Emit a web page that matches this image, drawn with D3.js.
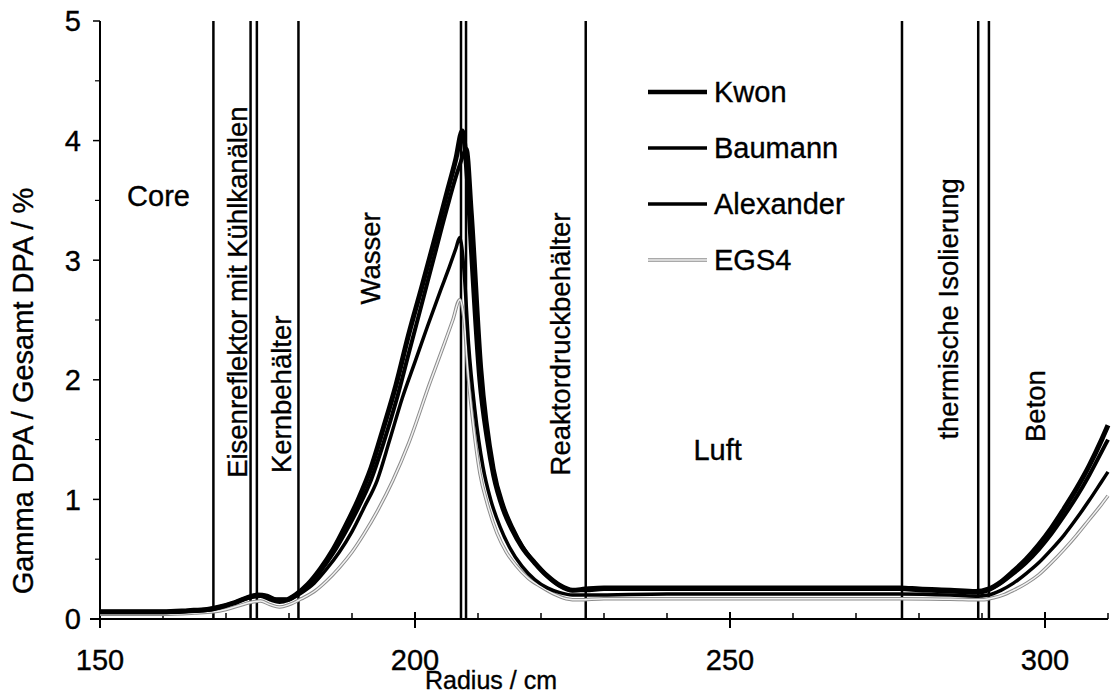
<!DOCTYPE html>
<html>
<head>
<meta charset="utf-8">
<script src="https://cdn.jsdelivr.net/npm/d3@7"></script>
<style>
  body { margin: 0; background: #fff; }
  text { font-family: "Liberation Sans", Arial, sans-serif; fill: #000; stroke: #000; stroke-width: 0.35px; }
</style>
</head>
<body>
<div id="chart"></div>
<script>
// series data: [radius cm, gamma dpa %]
const kwon = [[150,0.06],[155,0.06],[160,0.06],[164,0.07],[167,0.08],[169,0.1],[171,0.13],[173,0.17],[175,0.2],[176.5,0.19],[178,0.16],[179.5,0.16],[181,0.2],[183,0.29],[185,0.42],[187,0.58],[189,0.78],[191,1.0],[193,1.26],[195,1.6],[197,1.96],[199,2.38],[201,2.76],[203,3.15],[205,3.55],[206.5,3.85],[207.5,4.08],[208.3,3.7],[209,3.05],[210.3,2.0],[211.5,1.5],[212.5,1.2],[214,0.92],[215.5,0.74],[217,0.6],[219,0.47],[221,0.36],[223,0.28],[225,0.24],[227,0.25],[230,0.26],[240,0.26],[250,0.26],[260,0.26],[270,0.26],[277,0.26],[280,0.25],[285,0.24],[289,0.23],[291,0.25],[293,0.31],[295,0.4],[297,0.5],[299,0.62],[301,0.76],[303,0.92],[305,1.09],[307,1.28],[309,1.5],[310,1.62]];
const baumann = [[150,0.06],[155,0.06],[160,0.06],[164,0.07],[167,0.08],[169,0.1],[171,0.13],[173,0.17],[175,0.2],[176.5,0.19],[178,0.16],[179.5,0.16],[181,0.2],[183,0.28],[185,0.4],[187,0.55],[189,0.73],[191,0.93],[193,1.16],[195,1.47],[197,1.82],[199,2.22],[201,2.62],[203,3.02],[205,3.42],[207,3.78],[208.2,3.93],[209,3.4],[210.5,2.1],[212.5,1.25],[214,0.95],[215.5,0.76],[217,0.61],[219,0.47],[221,0.36],[223,0.28],[225,0.24],[227,0.24],[230,0.25],[240,0.25],[250,0.25],[260,0.25],[270,0.25],[277,0.25],[280,0.24],[285,0.23],[289,0.22],[291,0.24],[293,0.3],[295,0.38],[297,0.47],[299,0.58],[301,0.71],[303,0.86],[305,1.02],[307,1.2],[309,1.4],[310,1.5]];
const alexander = [[150,0.055],[160,0.055],[165,0.065],[168,0.08],[170,0.11],[172,0.15],[174,0.18],[175.5,0.19],[177,0.16],[178.5,0.14],[180,0.16],[182,0.22],[184,0.3],[186,0.42],[188,0.56],[190,0.73],[192,0.94],[194,1.16],[196,1.5],[198,1.85],[200,2.15],[202,2.45],[204,2.74],[205.5,2.95],[206.5,3.1],[207.1,3.19],[207.8,2.9],[208.5,2.3],[209.5,1.75],[210.8,1.27],[212,1.0],[213.5,0.77],[215,0.6],[217,0.44],[219,0.33],[221,0.26],[223,0.22],[225,0.2],[228,0.2],[240,0.21],[260,0.21],[277,0.21],[285,0.2],[289,0.19],[291,0.2],[293,0.24],[295,0.3],[297,0.38],[299,0.47],[301,0.58],[303,0.7],[305,0.84],[307,0.99],[309,1.15],[310,1.23]];
const egs4 = [[150,0.04],[160,0.04],[165,0.05],[168,0.06],[170,0.08],[172,0.11],[174,0.14],[175.5,0.15],[177,0.12],[178.5,0.1],[180,0.12],[182,0.17],[184,0.23],[186,0.32],[188,0.43],[190,0.56],[192,0.72],[194,0.9],[196.5,1.16],[199,1.47],[202.4,1.98],[204.5,2.28],[206,2.5],[207.1,2.67],[207.8,2.5],[208.5,2.0],[209.3,1.6],[210.3,1.22],[211.5,0.96],[213,0.72],[214.5,0.56],[216,0.45],[218,0.34],[220,0.27],[222,0.21],[224,0.17],[226,0.16],[230,0.17],[250,0.17],[277,0.17],[285,0.165],[290,0.16],[292,0.18],[293.3,0.2],[295,0.24],[297.1,0.3],[299,0.37],[301,0.47],[303,0.58],[305,0.7],[307,0.83],[309,0.96],[310,1.03]];

const seriesNames = ["Kwon", "Baumann", "Alexander", "EGS4"];

// region boundaries (radius cm)
const boundaries = [168, 173.9, 174.9, 181.5, 207.3, 208.1, 227.1, 277.3, 289.4, 291.1];

// region labels: [text, radius, value, rotated]
const regionLabels = [
  ["Core", 154.3, 3.45, false],
  ["Eisenreflektor mit Kühlkanälen", 173.3, 1.18, true],
  ["Kernbehälter", 180.3, 1.22, true],
  ["Wasser", 194.5, 2.63, true],
  ["Reaktordruckbehälter", 224.6, 1.2, true],
  ["Luft", 244.2, 1.33, false],
  ["thermische Isolierung", 286.2, 1.5, true],
  ["Beton", 300, 1.48, true]
];

const xTicks = [150, 200, 250, 300];
const yTicks = [0, 1, 2, 3, 4, 5];

const W = 1118, H = 695;
const x = d3.scaleLinear().domain([150, 310]).range([100, 1108]);
const y = d3.scaleLinear().domain([0, 5]).range([619, 21]);

const svg = d3.select("#chart").append("svg")
  .attr("width", W).attr("height", H);

// boundary lines
svg.selectAll(".bound")
  .data(boundaries)
  .join("line")
  .attr("class", "bound")
  .attr("x1", d => x(d)).attr("x2", d => x(d))
  .attr("y1", y(5)).attr("y2", y(0))
  .attr("stroke", "#000")
  .attr("stroke-width", 2.5);

// axes
const xAxis = svg.append("g");
xAxis.append("line")
  .attr("x1", x(150) - 10).attr("x2", x(310))
  .attr("y1", y(0)).attr("y2", y(0))
  .attr("stroke", "#000").attr("stroke-width", 2);
xAxis.selectAll(".minor")
  .data(d3.range(160, 311, 10).filter(d => d % 50 !== 0))
  .join("line")
  .attr("x1", d => x(d)).attr("x2", d => x(d))
  .attr("y1", y(0) - 6).attr("y2", y(0))
  .attr("stroke", "#000").attr("stroke-width", 1.5);
xAxis.selectAll(".major")
  .data(xTicks)
  .join("line")
  .attr("x1", d => x(d)).attr("x2", d => x(d))
  .attr("y1", y(0) - 7).attr("y2", y(0) + 9)
  .attr("stroke", "#000").attr("stroke-width", 2);
xAxis.selectAll(".xlab")
  .data(xTicks)
  .join("text")
  .attr("x", d => x(d)).attr("y", 670)
  .attr("text-anchor", "middle")
  .style("font-size", "29px")
  .text(d => d);

const yAxis = svg.append("g");
yAxis.append("line")
  .attr("x1", x(150)).attr("x2", x(150))
  .attr("y1", y(5)).attr("y2", y(0) + 9)
  .attr("stroke", "#000").attr("stroke-width", 2);
yAxis.selectAll(".ymajor")
  .data(yTicks)
  .join("line")
  .attr("x1", x(150) - 7).attr("x2", x(150))
  .attr("y1", d => y(d)).attr("y2", d => y(d))
  .attr("stroke", "#000").attr("stroke-width", 1.5);
yAxis.selectAll(".yminor")
  .data([0.5, 1.5, 2.5, 3.5, 4.5])
  .join("line")
  .attr("x1", x(150) - 5).attr("x2", x(150))
  .attr("y1", d => y(d)).attr("y2", d => y(d))
  .attr("stroke", "#000").attr("stroke-width", 1.2);
yAxis.selectAll(".ylab")
  .data(yTicks)
  .join("text")
  .attr("x", 81).attr("y", d => y(d))
  .attr("dy", "0.36em")
  .attr("text-anchor", "end")
  .style("font-size", "29px")
  .text(d => d);

// axis titles
svg.append("text")
  .attr("x", 491).attr("y", 689)
  .attr("text-anchor", "middle")
  .style("font-size", "25px")
  .text("Radius / cm");
svg.append("text")
  .attr("transform", "translate(33,391) rotate(-90)")
  .attr("text-anchor", "middle")
  .style("font-size", "29px")
  .text("Gamma DPA / Gesamt DPA / %");

// region labels
svg.selectAll(".region")
  .data(regionLabels)
  .join("text")
  .attr("class", "region")
  .attr("transform", d => d[3]
    ? `translate(${x(d[1])},${y(d[2])}) rotate(-90)`
    : `translate(${x(d[1])},${y(d[2])})`)
  .style("font-size", d => d[3] ? "27.5px" : "29px")
  .text(d => d[0]);

// curves
const line = d3.line()
  .x(d => x(d[0]))
  .y(d => y(d[1]))
  .curve(d3.curveMonotoneX);

svg.append("path").datum(egs4)
  .attr("d", line).attr("fill", "none")
  .attr("stroke", "#8c8c8c").attr("stroke-width", 3.5);
svg.append("path").datum(egs4)
  .attr("d", line).attr("fill", "none")
  .attr("stroke", "#f2f2f2").attr("stroke-width", 1.5);
svg.append("path").datum(alexander)
  .attr("d", line).attr("fill", "none")
  .attr("stroke", "#000").attr("stroke-width", 3.5);
svg.append("path").datum(baumann)
  .attr("d", line).attr("fill", "none")
  .attr("stroke", "#000").attr("stroke-width", 4);
svg.append("path").datum(kwon)
  .attr("d", line).attr("fill", "none")
  .attr("stroke", "#000").attr("stroke-width", 5);

// legend
const legendY = [92, 148, 204, 260];
const legendWidth = [4.5, 3.5, 3.5, 3.5];
const legend = svg.selectAll(".legend")
  .data(seriesNames)
  .join("g")
  .attr("class", "legend")
  .attr("transform", (d, i) => `translate(648, ${legendY[i]})`);

legend.append("line")
  .attr("x1", 0).attr("x2", 59)
  .attr("y1", 0).attr("y2", 0)
  .attr("stroke", d => d === "EGS4" ? "#8c8c8c" : "#000")
  .attr("stroke-width", (d, i) => legendWidth[i]);
legend.filter(d => d === "EGS4").append("line")
  .attr("x1", 0).attr("x2", 59)
  .attr("y1", 0).attr("y2", 0)
  .attr("stroke", "#f2f2f2").attr("stroke-width", 1.5);
legend.append("text")
  .attr("x", 66).attr("y", 0)
  .attr("dy", "0.36em")
  .style("font-size", "29px")
  .text(d => d);
</script>
</body>
</html>
